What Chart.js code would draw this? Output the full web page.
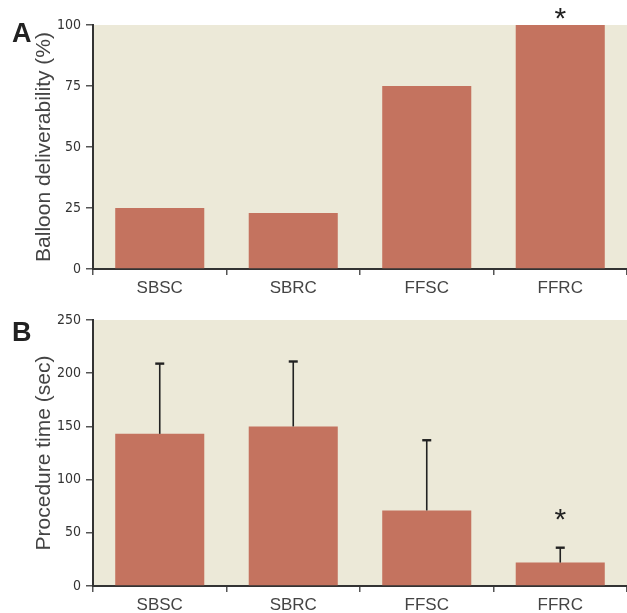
<!DOCTYPE html>
<html lang="en">
<head>
  <meta charset="UTF-8">
  <title>Balloon deliverability and procedure time</title>
  <script src="https://cdn.jsdelivr.net/npm/chart.js"></script>
  <style>
    body { margin: 0; background: #fff; }
    .panel { position: absolute; left: 0; width: 627px; }
    #panelA { top: 0; height: 300px; }
    #panelB { top: 300px; height: 313px; }
  </style>
</head>
<body>

<div class="panel" id="panelA"><canvas id="chartA" width="627" height="300"></canvas></div>
<div class="panel" id="panelB"><canvas id="chartB" width="627" height="313"></canvas></div>

<script>
  // data
  var groups = ['SBSC', 'SBRC', 'FFSC', 'FFRC'];
  var deliverability = [25, 23, 75, 100];      // %
  var procTime = [143, 150, 71, 22];           // sec, mean
  var procTimeUpper = [209, 211, 137, 36];     // sec, mean + SD
  var starsA = [false, false, false, true];
  var starsB = [false, false, false, true];
  var ticksA = [0, 25, 50, 75, 100];
  var ticksB = [0, 50, 100, 150, 200, 250];

  var BAR = '#C4735F';
  var BG = '#ECE9D8';

  // plot background
  var bgPlugin = {
    id: 'bg',
    beforeDraw: function(chart) {
      var a = chart.chartArea, ctx = chart.ctx;
      ctx.save();
      ctx.fillStyle = BG;
      ctx.fillRect(a.left, a.top, a.right - a.left, a.bottom - a.top);
      ctx.restore();
    }
  };

  // error bars, asterisks and panel letter
  var extrasPlugin = {
    id: 'extras',
    afterDatasetsDraw: function(chart, args, opts) {
      var ctx = chart.ctx, x = chart.scales.x, y = chart.scales.y;
      var vals = chart.data.datasets[0].data;
      ctx.save();
      if (opts.upper) {
        ctx.strokeStyle = '#222';
        opts.upper.forEach(function(u, i) {
          var px = x.getPixelForValue(i);
          var py = y.getPixelForValue(u);
          ctx.lineWidth = 1.6;
          ctx.beginPath();
          ctx.moveTo(px, y.getPixelForValue(vals[i]));
          ctx.lineTo(px, py);
          ctx.stroke();
          ctx.lineWidth = 2.4;
          ctx.beginPath();
          ctx.moveTo(px - 4.5, py);
          ctx.lineTo(px + 4.5, py);
          ctx.stroke();
        });
      }
      ctx.fillStyle = '#222';
      ctx.font = '30px "Liberation Sans", Arial, sans-serif';
      ctx.textAlign = 'center';
      ctx.textBaseline = 'alphabetic';
      opts.stars.forEach(function(s, i) {
        if (!s) return;
        var top = opts.upper ? opts.upper[i] : vals[i];
        var cy = y.getPixelForValue(top) - opts.starGap;
        ctx.fillText('*', x.getPixelForValue(i), cy + 17);
      });
      ctx.font = 'bold 27px "Liberation Sans", Arial, sans-serif';
      ctx.textAlign = 'left';
      ctx.fillText(opts.letter, 12, opts.letterY);
      ctx.restore();
    }
  };

  function makeChart(id, values, yTicks, yMax, yTitle, topPad, xHeight, extras) {
    return new Chart(document.getElementById(id), {
      type: 'bar',
      data: {
        labels: groups,
        datasets: [{
          data: values,
          backgroundColor: BAR,
          borderWidth: 0,
          barPercentage: 0.667,
          categoryPercentage: 1
        }]
      },
      options: {
        responsive: false,
        animation: false,
        layout: { padding: { top: topPad, left: 0, right: 0, bottom: 0 } },
        plugins: {
          legend: { display: false },
          tooltip: { enabled: false },
          extras: extras
        },
        scales: {
          x: {
            offset: true,
            grid: { offset: true, drawOnChartArea: false, tickLength: 6, color: '#555', lineWidth: 1.5 },
            border: { color: '#333', width: 2 },
            ticks: { color: '#444', padding: 3, font: { family: '"Liberation Sans", Arial, sans-serif', size: 17 } },
            afterFit: function(s) { s.height = xHeight; }
          },
          y: {
            min: 0,
            max: yMax,
            afterBuildTicks: function(s) { s.ticks = yTicks.map(function(v) { return { value: v }; }); },
            grid: { drawOnChartArea: false, tickLength: 7, color: '#555', lineWidth: 1.5 },
            border: { color: '#333', width: 2 },
            ticks: { color: '#333', padding: 5, font: { family: '"Liberation Sans Narrow", "DejaVu Sans Condensed", sans-serif', size: 14 } },
            title: {
              display: true,
              text: yTitle,
              color: '#444',
              padding: { top: 32, bottom: 0 },
              font: { family: '"Liberation Sans", Arial, sans-serif', size: 21, weight: 'normal' }
            },
            afterFit: function(s) { s.width = 93; }
          }
        }
      },
      plugins: [bgPlugin, extrasPlugin]
    });
  }

  makeChart('chartA', deliverability, ticksA, 100, 'Balloon deliverability (%)', 25, 31,
    { stars: starsA, starGap: 14, letter: 'A', letterY: 42 });
  makeChart('chartB', procTime, ticksB, 250, 'Procedure time (sec)', 20, 27,
    { stars: starsB, upper: procTimeUpper, starGap: 36, letter: 'B', letterY: 41 });
</script>

</body>
</html>
